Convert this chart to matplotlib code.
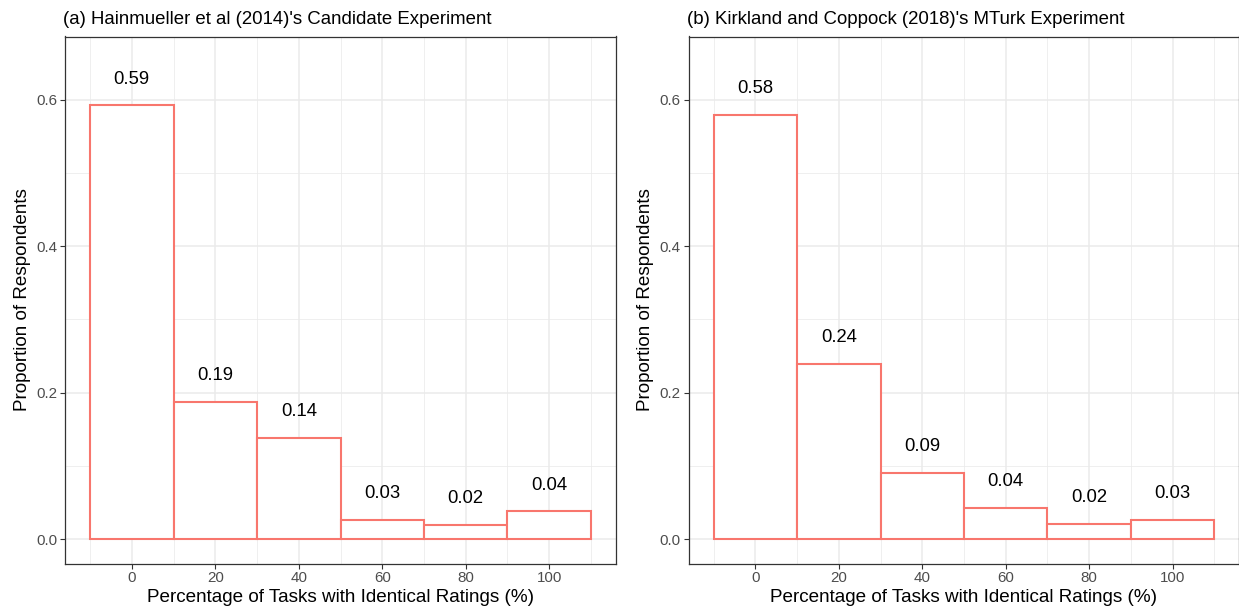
import numpy as np
import matplotlib
matplotlib.use('Agg')
import matplotlib.pyplot as plt

# Bin centres (percentage of tasks with identical ratings):
lstBins = [0, 20, 40, 60, 80, 100]

# Proportion of respondents per bin:
lstPropA = [0.592, 0.187, 0.138, 0.026, 0.019, 0.038]
lstPropB = [0.579, 0.239, 0.091, 0.043, 0.021, 0.026]

# Printed labels:
lstLblA = ['0.59', '0.19', '0.14', '0.03', '0.02', '0.04']
lstLblB = ['0.58', '0.24', '0.09', '0.04', '0.02', '0.03']

lstTitle = ["(a) Hainmueller et al (2014)'s Candidate Experiment",
            "(b) Kirkland and Coppock (2018)'s MTurk Experiment"]

strXlabel = 'Percentage of Tasks with Identical Ratings (%)'
strYlabel = 'Proportion of Respondents'

plt.rcParams['font.family'] = ['Liberation Sans', 'DejaVu Sans']

strClrBar = '#F8766D'
strClrGrid = '#EBEBEB'
strClrTick = '#4D4D4D'

fgr01 = plt.figure(figsize=(12.39, 6.13), dpi=100)

# Axes positions in figure fraction (left, bottom, width, height):
lstPos = [(65.0 / 1239, 49.5 / 613, 551.0 / 1239, 527.0 / 613),
          (688.5 / 1239, 49.5 / 613, 551.0 / 1239, 527.0 / 613)]

for idxPnl, (lstProp, lstLbl) in enumerate([(lstPropA, lstLblA),
                                            (lstPropB, lstLblB)]):
    axs01 = fgr01.add_axes(lstPos[idxPnl])

    # Bars with outline only:
    axs01.bar(lstBins, lstProp, width=20, facecolor='white',
              edgecolor=strClrBar, linewidth=1.5, zorder=3)

    # Value labels above bars:
    for varX, varY, strLbl in zip(lstBins, lstProp, lstLbl):
        axs01.text(varX, varY + 0.036, strLbl, ha='center', va='center',
                   fontsize=13.3, color='black', zorder=4)

    axs01.set_xlim(-16, 116)
    axs01.set_ylim(-0.033, 0.686)

    axs01.set_xticks([0, 20, 40, 60, 80, 100])
    axs01.set_xticks(np.arange(-10, 111, 20), minor=True)
    axs01.set_yticks([0.0, 0.2, 0.4, 0.6])
    axs01.set_yticklabels(['0.0', '0.2', '0.4', '0.6'])
    axs01.set_yticks([0.1, 0.3, 0.5], minor=True)

    axs01.grid(which='major', color=strClrGrid, linewidth=1.1, zorder=0)
    axs01.grid(which='minor', color=strClrGrid, linewidth=0.55, zorder=0)
    axs01.set_axisbelow(True)

    axs01.tick_params(which='major', labelsize=10.9, labelcolor=strClrTick,
                      color='#333333', length=3.5, width=0.8, pad=2)
    axs01.tick_params(which='minor', length=0)

    for strSpn in ['top', 'bottom', 'left', 'right']:
        axs01.spines[strSpn].set_color('#333333')
        axs01.spines[strSpn].set_linewidth(0.9)

    axs01.set_xlabel(strXlabel, fontsize=13.6, labelpad=3)
    axs01.set_ylabel(strYlabel, fontsize=13.6, labelpad=4)
    axs01.set_title(lstTitle[idxPnl], loc='left', fontsize=13.4, pad=9,
                    x=-0.003)

fgr01.savefig('out.png', dpi=100, facecolor='w')
plt.close(fgr01)
